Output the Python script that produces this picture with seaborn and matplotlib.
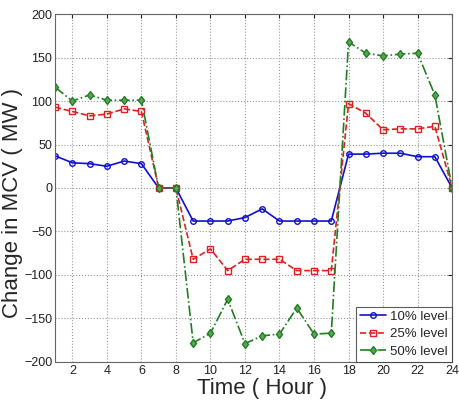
import matplotlib
matplotlib.use("Agg")
import matplotlib.pyplot as plt
import seaborn as sns
import pandas as pd

hours = list(range(1, 25))
level_10 = [37, 29, 28, 25, 31, 28, 0, 0, -38, -38, -38, -34, -24, -38, -38, -38, -38,
            39, 39, 40, 40, 36, 36, 0]
level_25 = [93, 88, 83, 85, 91, 88, 0, 0, -82, -70, -95, -82, -82, -82, -95, -95, -95,
            97, 86, 67, 68, 68, 71, 0]
level_50 = [116, 100, 107, 101, 101, 101, 0, 0, -178, -167, -128, -179, -170, -168, -138, -168, -167,
            168, 155, 152, 154, 155, 107, 0]
series_names = ["10% level", "25% level", "50% level"]
x_ticks = list(range(2, 25, 2))
y_ticks = list(range(-200, 201, 50))

sns.set_style("white")
plt.rcParams["font.family"] = ["Liberation Sans", "DejaVu Sans"]

fig = plt.figure(figsize=(4.59, 4.03), dpi=100)
ax = fig.add_axes([0.12, 0.102, 0.865, 0.863])

styles = [
    dict(color="#1010d0", linestyle="-", marker="o", markersize=4, markerfacecolor="none"),
    dict(color="#e02020", linestyle="--", marker="s", markersize=5, markerfacecolor="none"),
    dict(color="#208020", linestyle="-.", marker="d", markersize=4.5, markerfacecolor="#60a060"),
]
for name, vals, st in zip(series_names, [level_10, level_25, level_50], styles):
    df = pd.DataFrame({"hour": hours, "value": vals})
    sns.lineplot(data=df, x="hour", y="value", ax=ax, label=name, linewidth=1.2,
                 markeredgewidth=1.0, markeredgecolor=st["color"], **st)

ax.set_xlim(1, 24)
ax.set_ylim(-200, 200)
ax.set_xticks(x_ticks)
ax.set_yticks(y_ticks)
ax.grid(True, linestyle=":", color="#999999", linewidth=0.8)
ax.tick_params(direction="in", length=3, labelsize=9, colors="#222222",
               top=True, right=True, pad=2)
for sp in ax.spines.values():
    sp.set_color("#666666")
    sp.set_linewidth(0.8)
ax.set_xlabel("Time ( Hour )", fontsize=16)
ax.set_ylabel("Change in MCV ( MW )", fontsize=16)
ax.xaxis.set_label_coords(0.52, -0.045)
ax.yaxis.set_label_coords(-0.08, 0.457)

leg = ax.legend(loc="lower right", fontsize=9.5, frameon=True, fancybox=False,
                borderpad=0.3, labelspacing=0.4, handlelength=2.0, handletextpad=0.3,
                borderaxespad=0.0)
leg.get_frame().set_edgecolor("#333333")
leg.get_frame().set_linewidth(0.8)

fig.savefig("out.png", dpi=100)
